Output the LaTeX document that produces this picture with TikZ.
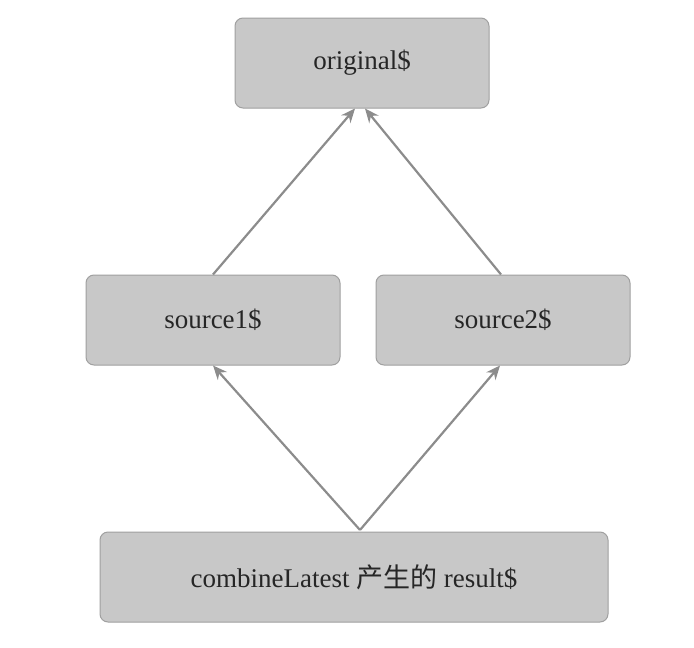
\documentclass[tikz,border=0pt]{standalone}
\usepackage{fontspec}
\setmainfont{Liberation Serif}
\newfontfamily\cjk{Noto Sans CJK SC}
\usetikzlibrary{arrows.meta}
\definecolor{boxfill}{HTML}{C8C8C8}
\definecolor{boxline}{HTML}{A0A0A0}
\definecolor{arr}{HTML}{8C8C8C}
\begin{document}
\begin{tikzpicture}[x=1pt,y=-1pt,
  box/.style={draw=boxline,fill=boxfill,line width=1pt,rounded corners=8pt,minimum height=90pt,font=\fontsize{27}{30}\selectfont,text=black!85},
  conn/.style={draw=arr,line width=2.2pt,-{Stealth[length=14pt,width=12pt]}}]
\useasboundingbox (0,0) rectangle (694,648);
\node[box,minimum width=254pt] (orig) at (362,63) {original\$};
\node[box,minimum width=254pt] (s1) at (213,320) {source1\$};
\node[box,minimum width=254pt] (s2) at (503,320) {source2\$};
\node[box,minimum width=508pt] (comb) at (354,577) {combineLatest {\cjk 产生的} result\$};
\coordinate (c) at (360,530);
\draw[conn] (s1.north) -- (orig.south -| 355,0);
\draw[conn] (s2.north -| 501,0) -- (orig.south -| 365,0);
\draw[conn] (c) -- (s1.south);
\draw[conn] (c) -- (s2.south -| 500,0);
\end{tikzpicture}
\end{document}
